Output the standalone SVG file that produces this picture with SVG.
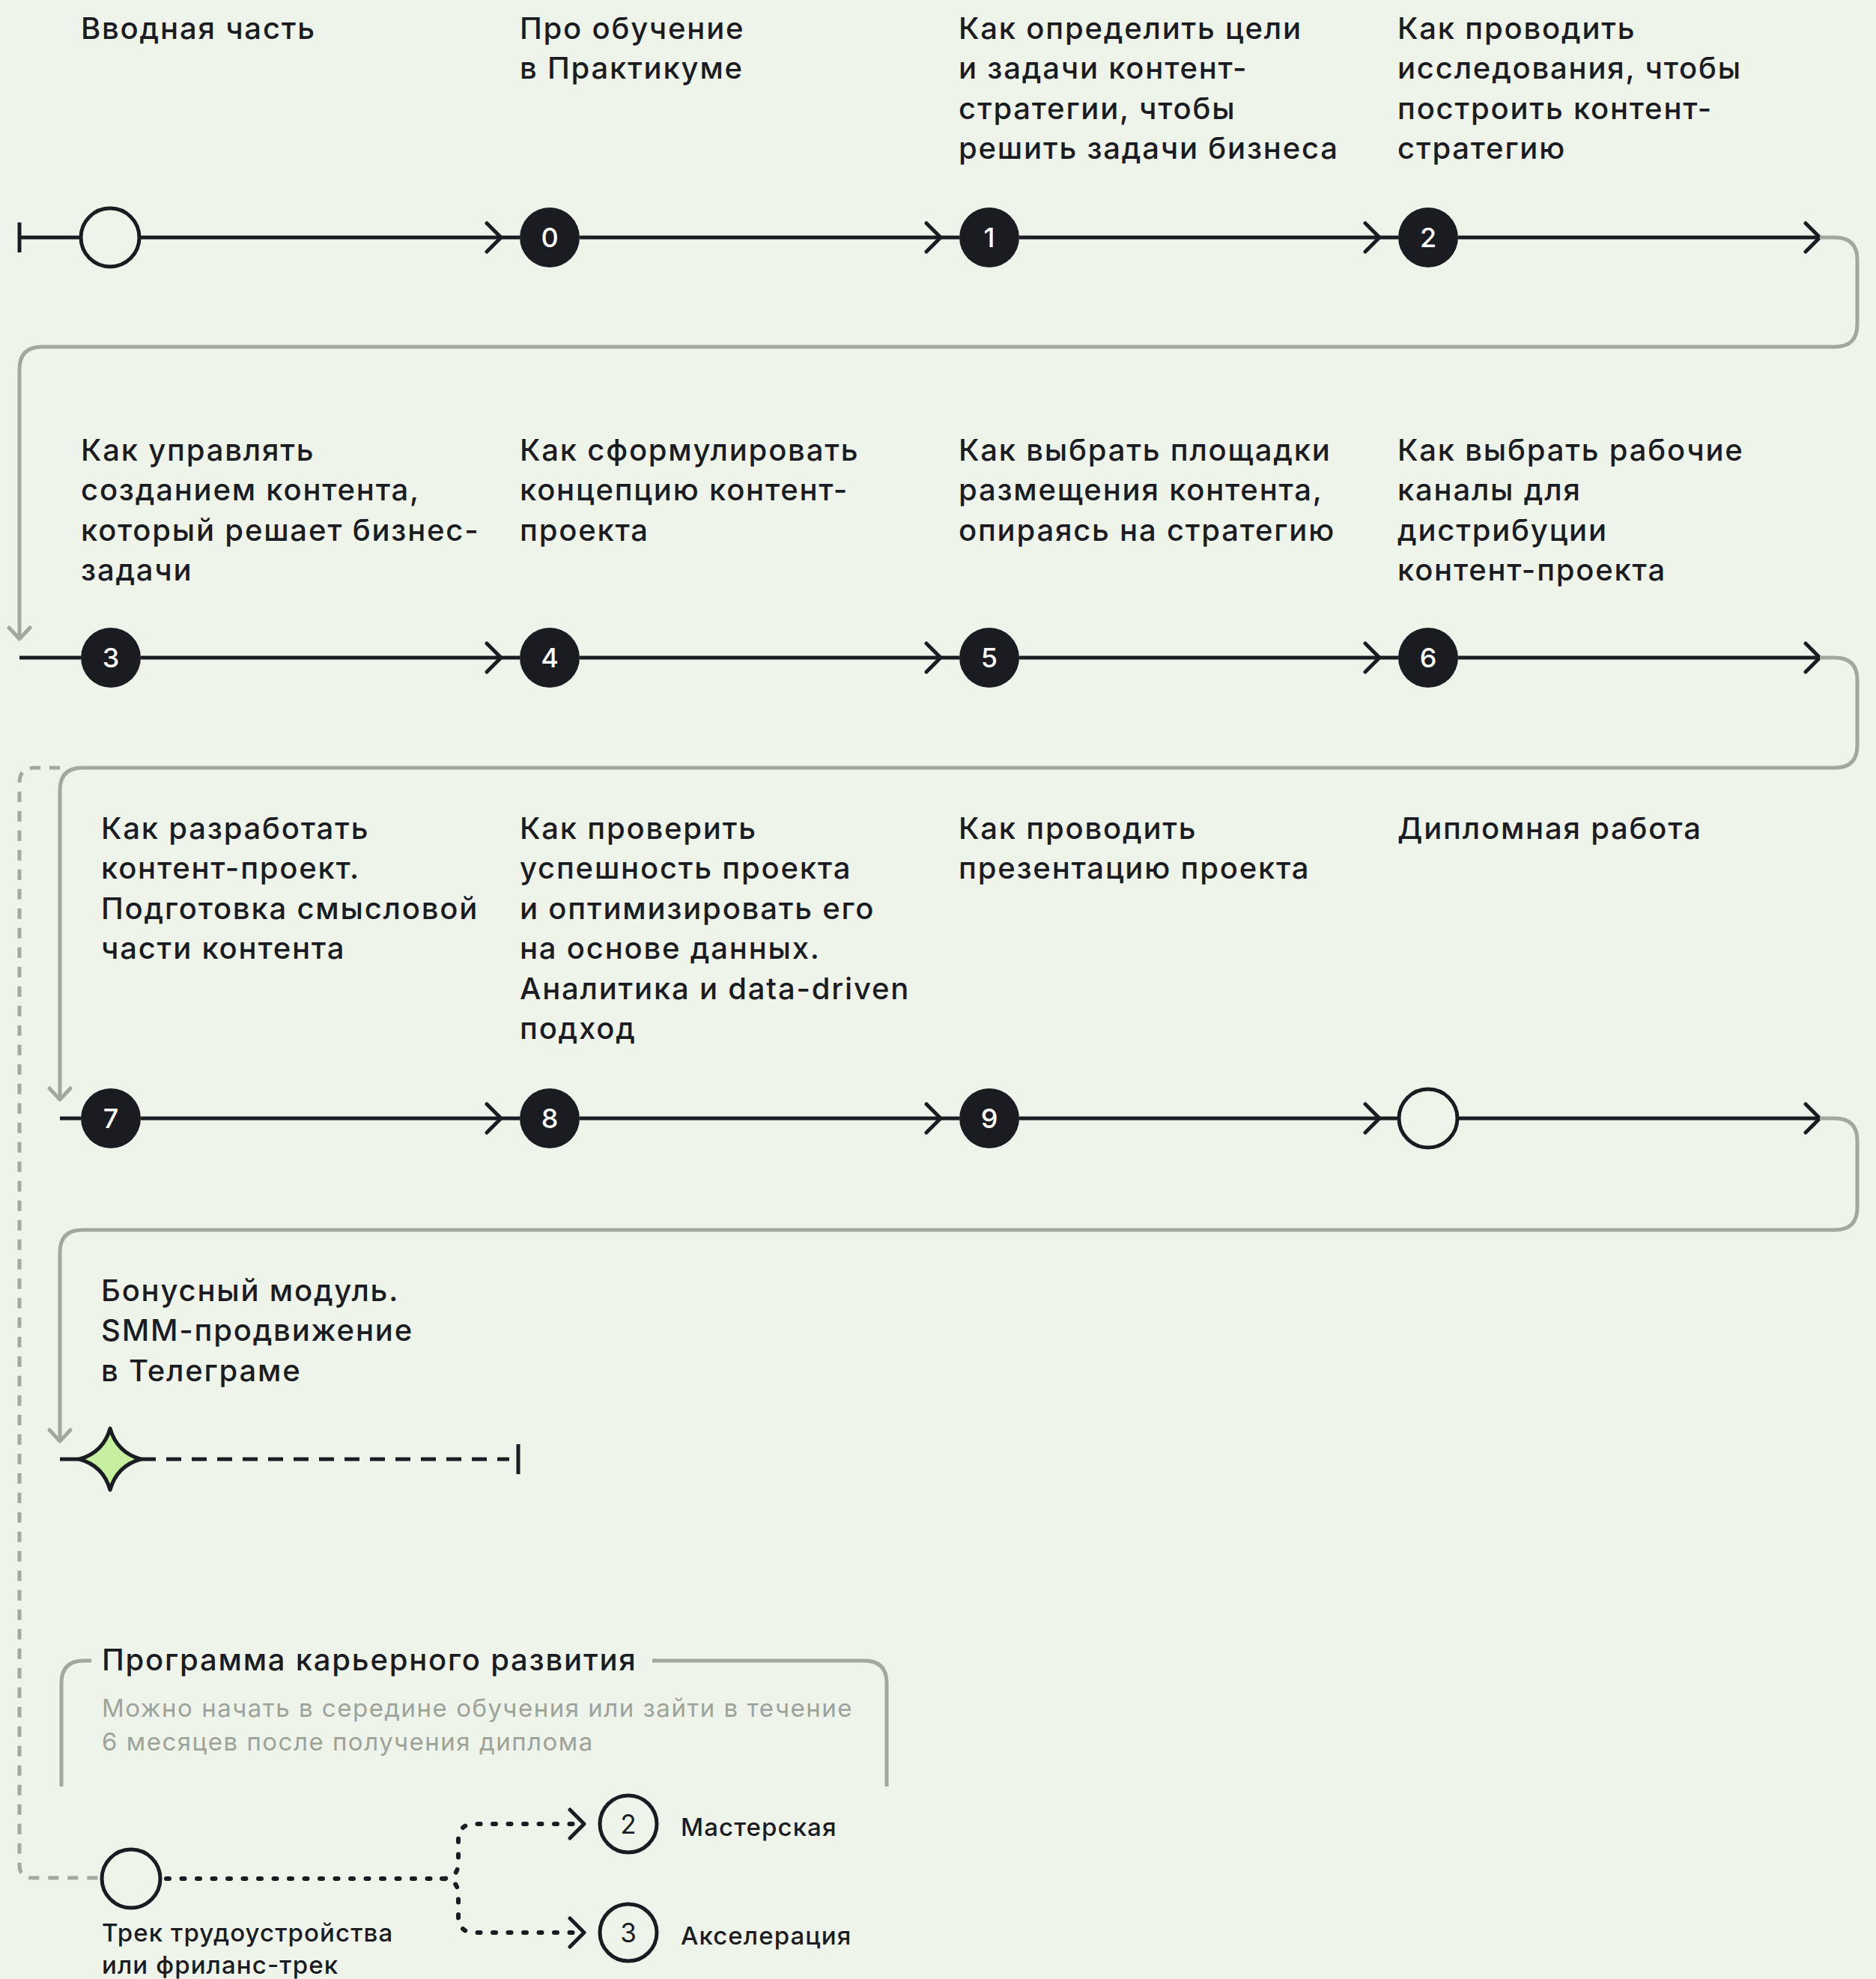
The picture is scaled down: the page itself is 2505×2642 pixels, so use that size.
<svg xmlns="http://www.w3.org/2000/svg" width="2505" height="2642" viewBox="0 0 2505 2642">
<defs>
<style>
.t{font-family:Inter,"Noto Sans","Liberation Sans",sans-serif;font-size:40px;font-weight:500;letter-spacing:1.8px;fill:#1b1c22}
.num{font-family:Inter,"Noto Sans","Liberation Sans",sans-serif;font-size:36px;font-weight:500;fill:#ffffff;text-anchor:middle}
.numd{font-family:Inter,"Noto Sans","Liberation Sans",sans-serif;font-size:35px;font-weight:400;fill:#1b1c22;text-anchor:middle}
.sub{font-family:Inter,"Noto Sans","Liberation Sans",sans-serif;font-size:33px;font-weight:400;letter-spacing:1.5px;fill:#9da398}
.lbl{font-family:Inter,"Noto Sans","Liberation Sans",sans-serif;font-size:33px;font-weight:500;letter-spacing:1.1px;fill:#1b1c22}
.ln{fill:none;stroke:#1b1c22;stroke-width:5}
.gr{fill:none;stroke:#a2a89e;stroke-width:5}
.ar{fill:none;stroke:#1b1c22;stroke-width:5;stroke-linecap:round;stroke-linejoin:round}
.arg{fill:none;stroke:#a2a89e;stroke-width:5;stroke-linecap:round;stroke-linejoin:round}
.dk{fill:#1b1c22}
.hol{fill:none;stroke:#1b1c22;stroke-width:5}
</style>
</defs>
<rect x="0" y="0" width="2505" height="2642" fill="#eef4ea"/>

<g id="connectors">
  <!-- row 1 -->
  <path class="ln" d="M26 297 V337 M26 317 H108 M186 317 H694 M774 317 H1281 M1361 317 H1867 M1947 317 H2430"/>
  <path class="ar" d="M650 298 L669 317 L650 336 M1237 298 L1256 317 L1237 336 M1823 298 L1842 317 L1823 336 M2411 298 L2430 317 L2411 336"/>
  <!-- row 2 -->
  <path class="ln" d="M26 878 H108 M188 878 H694 M774 878 H1281 M1361 878 H1867 M1947 878 H2430"/>
  <path class="ar" d="M650 859 L669 878 L650 897 M1237 859 L1256 878 L1237 897 M1823 859 L1842 878 L1823 897 M2411 859 L2430 878 L2411 897"/>
  <!-- row 3 -->
  <path class="ln" d="M80 1493 H108 M188 1493 H694 M774 1493 H1281 M1361 1493 H1867 M1947 1493 H2430"/>
  <path class="ar" d="M650 1474 L669 1493 L650 1512 M1237 1474 L1256 1493 L1237 1512 M1823 1474 L1842 1493 L1823 1512 M2411 1474 L2430 1493 L2411 1512"/>
  <!-- bonus -->
  <path class="ln" d="M80 1948 H108"/>
  <path d="M188 1948 H680" fill="none" stroke="#1b1c22" stroke-width="5" stroke-dasharray="20 14"/>
  <path class="ln" d="M692 1928 V1968"/>
  <!-- gray returns -->
  <path class="gr" d="M2430 317 H2450 Q2480 317 2480 347 V433 Q2480 463 2450 463 H56 Q26 463 26 493 V852"/>
  <path class="arg" d="M12 838 L26 853 L40 838"/>
  <path class="gr" d="M2430 878 H2450 Q2480 878 2480 908 V995 Q2480 1025 2450 1025 H110 Q80 1025 80 1055 V1467"/>
  <path class="arg" d="M66 1453 L80 1468 L94 1453"/>
  <path class="gr" d="M2430 1493 H2450 Q2480 1493 2480 1523 V1612 Q2480 1642 2450 1642 H110 Q80 1642 80 1672 V1923"/>
  <path class="arg" d="M66 1909 L80 1924 L94 1909"/>
  <!-- dashed gray to career -->
  <path d="M80 1025 H46 Q26 1025 26 1045 V2490 Q26 2507 43 2507 H136" fill="none" stroke="#a2a89e" stroke-width="5" stroke-dasharray="14 12"/>
  <!-- career box -->
  <path class="gr" d="M122 2217 H112 Q82 2217 82 2247 V2385 M871 2217 H1154 Q1184 2217 1184 2247 V2385"/>
  <!-- dotted branches -->
  <path d="M222 2508 H590 Q612 2508 612 2486 V2457 Q612 2435 634 2435 H772 M590 2508 Q612 2508 612 2530 V2558 Q612 2580 634 2580 H772" fill="none" stroke="#1b1c22" stroke-width="6" stroke-linecap="round" stroke-dasharray="4 16.5"/>
  <path class="ar" d="M761 2416 L780 2435 L761 2454 M761 2561 L780 2580 L761 2599"/>
</g>

<g id="node-intro">
  <circle class="hol" cx="147" cy="317" r="39"/>
  <text class="t" x="108" y="52">Вводная часть</text>
</g>
<g id="node-0">
  <circle class="dk" cx="734" cy="317" r="40"/>
  <text class="num" x="734" y="330">0</text>
  <text class="t" x="694" y="52">Про обучение</text>
  <text class="t" x="694" y="105">в Практикуме</text>
</g>
<g id="node-1">
  <circle class="dk" cx="1321" cy="317" r="40"/>
  <text class="num" x="1321" y="330">1</text>
  <text class="t" x="1280" y="52">Как определить цели</text>
  <text class="t" x="1280" y="105">и задачи контент-</text>
  <text class="t" x="1280" y="159">стратегии, чтобы</text>
  <text class="t" x="1280" y="212">решить задачи бизнеса</text>
</g>
<g id="node-2">
  <circle class="dk" cx="1907" cy="317" r="40"/>
  <text class="num" x="1907" y="330">2</text>
  <text class="t" x="1866" y="52">Как проводить</text>
  <text class="t" x="1866" y="105">исследования, чтобы</text>
  <text class="t" x="1866" y="159">построить контент-</text>
  <text class="t" x="1866" y="212">стратегию</text>
</g>

<g id="node-3">
  <circle class="dk" cx="148" cy="878" r="40"/>
  <text class="num" x="148" y="891">3</text>
  <text class="t" x="108" y="615">Как управлять</text>
  <text class="t" x="108" y="668">созданием контента,</text>
  <text class="t" x="108" y="722">который решает бизнес-</text>
  <text class="t" x="108" y="775">задачи</text>
</g>
<g id="node-4">
  <circle class="dk" cx="734" cy="878" r="40"/>
  <text class="num" x="734" y="891">4</text>
  <text class="t" x="694" y="615">Как сформулировать</text>
  <text class="t" x="694" y="668">концепцию контент-</text>
  <text class="t" x="694" y="722">проекта</text>
</g>
<g id="node-5">
  <circle class="dk" cx="1321" cy="878" r="40"/>
  <text class="num" x="1321" y="891">5</text>
  <text class="t" x="1280" y="615">Как выбрать площадки</text>
  <text class="t" x="1280" y="668">размещения контента,</text>
  <text class="t" x="1280" y="722">опираясь на стратегию</text>
</g>
<g id="node-6">
  <circle class="dk" cx="1907" cy="878" r="40"/>
  <text class="num" x="1907" y="891">6</text>
  <text class="t" x="1866" y="615">Как выбрать рабочие</text>
  <text class="t" x="1866" y="668">каналы для</text>
  <text class="t" x="1866" y="722">дистрибуции</text>
  <text class="t" x="1866" y="775">контент-проекта</text>
</g>

<g id="node-7">
  <circle class="dk" cx="148" cy="1493" r="40"/>
  <text class="num" x="148" y="1506">7</text>
  <text class="t" x="135" y="1120">Как разработать</text>
  <text class="t" x="135" y="1173">контент-проект.</text>
  <text class="t" x="135" y="1227">Подготовка смысловой</text>
  <text class="t" x="135" y="1280">части контента</text>
</g>
<g id="node-8">
  <circle class="dk" cx="734" cy="1493" r="40"/>
  <text class="num" x="734" y="1506">8</text>
  <text class="t" x="694" y="1120">Как проверить</text>
  <text class="t" x="694" y="1173">успешность проекта</text>
  <text class="t" x="694" y="1227">и оптимизировать его</text>
  <text class="t" x="694" y="1280">на основе данных.</text>
  <text class="t" x="694" y="1334">Аналитика и data-driven</text>
  <text class="t" x="694" y="1387">подход</text>
</g>
<g id="node-9">
  <circle class="dk" cx="1321" cy="1493" r="40"/>
  <text class="num" x="1321" y="1506">9</text>
  <text class="t" x="1280" y="1120">Как проводить</text>
  <text class="t" x="1280" y="1173">презентацию проекта</text>
</g>
<g id="node-diploma">
  <circle class="hol" cx="1907" cy="1493" r="39"/>
  <text class="t" x="1866" y="1120">Дипломная работа</text>
</g>

<g id="node-bonus">
  <path d="M147 1907 Q156 1939 188 1948 Q156 1957 147 1989 Q138 1957 106 1948 Q138 1939 147 1907 Z" fill="#c6f0a0" stroke="#1b1c22" stroke-width="5" stroke-linejoin="round"/>
  <text class="t" x="135" y="1737">Бонусный модуль.</text>
  <text class="t" x="135" y="1790">SMM-продвижение</text>
  <text class="t" x="135" y="1844">в Телеграме</text>
</g>

<g id="career-box">
  <text class="t" x="136" y="2230">Программа карьерного развития</text>
  <text class="sub" x="136" y="2292">Можно начать в середине обучения или зайти в течение</text>
  <text class="sub" x="136" y="2337">6 месяцев после получения диплома</text>
</g>
<g id="node-track">
  <circle class="hol" cx="175" cy="2508" r="39"/>
  <text class="lbl" x="136" y="2592">Трек трудоустройства</text>
  <text class="lbl" x="136" y="2635">или фриланс-трек</text>
</g>
<g id="node-workshop">
  <circle class="hol" cx="839" cy="2435" r="38"/>
  <text class="numd" x="839" y="2448">2</text>
  <text class="lbl" x="909" y="2451">Мастерская</text>
</g>
<g id="node-accel">
  <circle class="hol" cx="839" cy="2580" r="38"/>
  <text class="numd" x="839" y="2593">3</text>
  <text class="lbl" x="909" y="2596">Акселерация</text>
</g>
</svg>
